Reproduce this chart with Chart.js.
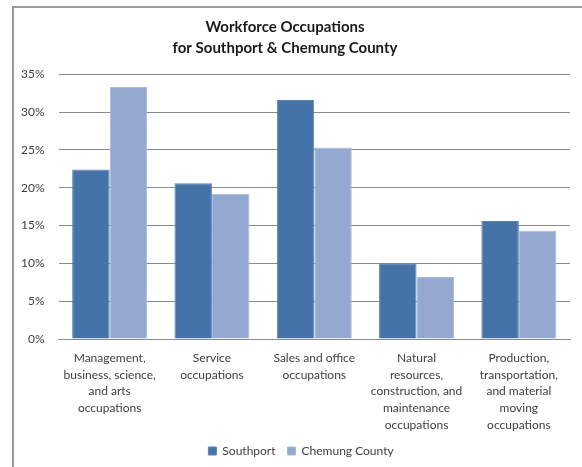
<!DOCTYPE html>
<html>
<head>
<meta charset="utf-8">
<script src="https://cdn.jsdelivr.net/npm/chart.js@4/dist/chart.umd.min.js"></script>
<style>
  html, body { margin: 0; padding: 0; background: #fff; overflow: hidden; }
  #frame {
    position: absolute; left: 12px; top: 6px; width: 700px; height: 600px;
    border: 2px solid #9a9a9a; box-sizing: border-box;
  }
  #wrap { position: absolute; left: 0; top: 0; width: 582px; height: 467px; }
</style>
</head>
<body>
<div id="frame"></div>
<div id="wrap"><canvas id="chart" width="582" height="467"></canvas></div>
<script>
// Occupation groups, split into lines the way the original wraps them
const categories = [
    ['Management,', 'business, science,', 'and arts', 'occupations'],
    ['Service', 'occupations'],
    ['Sales and office', 'occupations'],
    ['Natural', 'resources,', 'construction, and', 'maintenance', 'occupations'],
    ['Production,', 'transportation,', 'and material', 'moving', 'occupations'],
];

// Share of workers, in percent
const southport = [22.4, 20.6, 31.6, 10.0, 15.6];
const chemungCounty = [33.3, 19.2, 25.3, 8.2, 14.3];

const yTicks = [0, 5, 10, 15, 20, 25, 30, 35];

const fontFamily = 'Lato, "Open Sans", sans-serif';

// The original legend sits a little right of the canvas centre
const legendShift = {
    id: 'legendShift',
    beforeDraw(chart) {
        chart.legend.left += 16;
        chart.legend.right += 16;
    },
};

const chart = new Chart(
    document.getElementById('chart'),
    {
        type: 'bar',
        data: {
            labels: categories,
            datasets: [
                {
                    label: 'Southport',
                    data: southport,
                    backgroundColor: '#4572A7',
                    borderColor: '#5a84b4',
                    borderWidth: 1,
                },
                {
                    label: 'Chemung County',
                    data: chemungCounty,
                    backgroundColor: '#94A9CF',
                    borderColor: '#a6b9da',
                    borderWidth: 1,
                },
            ]
        },
        plugins: [legendShift],
        options: {
            responsive: false,
            animation: false,
            categoryPercentage: 0.733,
            barPercentage: 1.0,
            layout: {
                padding: { left: 0, right: 12, top: 16, bottom: 0 },
            },
            scales: {
                x: {
                    // room for five lines of labels under the axis
                    afterFit: (axis) => { axis.height = 94; },
                    grid: { display: false, drawTicks: false },
                    border: { display: true, color: '#8c8c8c', width: 1 },
                    ticks: {
                        color: '#404040',
                        padding: 10.5,
                        maxRotation: 0,
                        autoSkip: false,
                        font: { family: fontFamily, size: 12, lineHeight: 1.4 },
                    },
                },
                y: {
                    min: 0,
                    max: 35,
                    afterBuildTicks: (axis) => {
                        axis.ticks = yTicks.map(v => ({ value: v }));
                    },
                    afterFit: (axis) => { axis.width = 58.5; },
                    grid: { color: '#8c8c8c', drawTicks: false },
                    border: { display: false },
                    ticks: {
                        color: '#404040',
                        padding: 14,
                        font: { family: fontFamily, size: 12 },
                        callback: (v) => v + '%',
                    },
                }
            },
            plugins: {
                title: {
                    display: true,
                    text: ['Workforce Occupations', 'for Southport & Chemung County'],
                    color: '#1a1a1a',
                    padding: { top: 0, bottom: 15 },
                    font: { family: fontFamily, size: 15, weight: 'bold', lineHeight: 1.44 },
                },
                legend: {
                    position: 'bottom',
                    labels: {
                        boxWidth: 8,
                        boxHeight: 8,
                        padding: 12,
                        color: '#404040',
                        font: { family: fontFamily, size: 12 },
                    },
                },
                tooltip: { enabled: false },
            }
        },
    }
);
</script>
</body>
</html>
